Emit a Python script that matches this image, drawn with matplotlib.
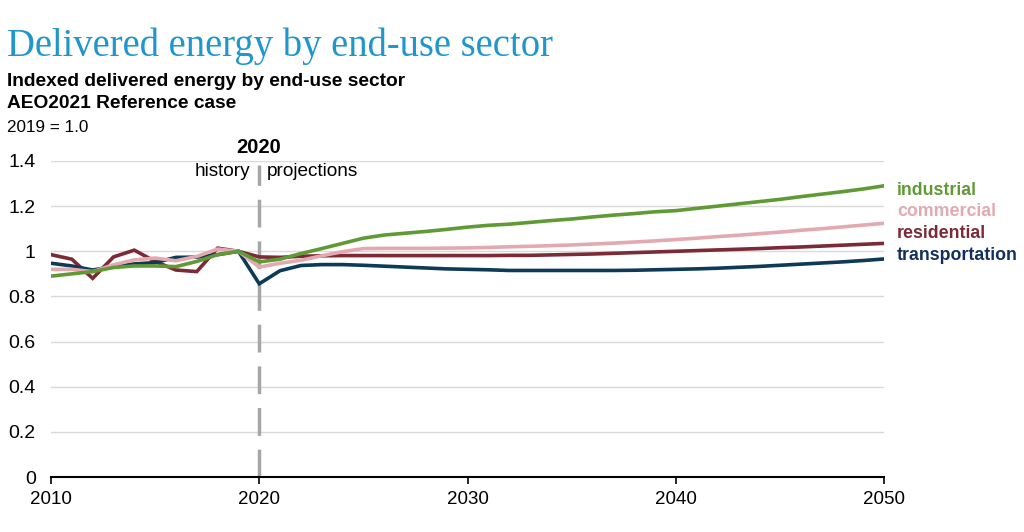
import numpy as np
import matplotlib.pyplot as plt

years = list(range(2010, 2051))

industrial = [0.89, 0.90, 0.91, 0.928, 0.935, 0.935, 0.932, 0.955, 0.985, 1.0,
              0.953, 0.965, 0.99, 1.012, 1.035, 1.058, 1.072, 1.08, 1.088, 1.097,
              1.107, 1.115, 1.12, 1.128, 1.136, 1.143, 1.152, 1.16, 1.167, 1.175,
              1.18, 1.19, 1.2, 1.21, 1.22, 1.23, 1.242, 1.253, 1.264, 1.276, 1.29]
commercial = [0.92, 0.92, 0.91, 0.94, 0.962, 0.97, 0.958, 0.977, 1.01, 1.0,
              0.93, 0.947, 0.96, 0.98, 0.998, 1.012, 1.013, 1.013, 1.013, 1.014,
              1.015, 1.017, 1.02, 1.022, 1.025, 1.028, 1.032, 1.036, 1.041, 1.046,
              1.052, 1.058, 1.065, 1.071, 1.078, 1.085, 1.093, 1.1, 1.108, 1.116, 1.124]
residential = [0.985, 0.965, 0.88, 0.975, 1.005, 0.955, 0.917, 0.91, 1.014, 1.0,
               0.975, 0.973, 0.978, 0.98, 0.981, 0.981, 0.981, 0.981, 0.981, 0.981,
               0.981, 0.981, 0.982, 0.982, 0.984, 0.986, 0.988, 0.991, 0.994, 0.997,
               1.0, 1.003, 1.006, 1.009, 1.012, 1.016, 1.019, 1.023, 1.027, 1.031, 1.035]
transportation = [0.947, 0.935, 0.917, 0.932, 0.944, 0.95, 0.973, 0.974, 0.985, 1.0,
                  0.856, 0.914, 0.937, 0.941, 0.941, 0.938, 0.934, 0.93, 0.926, 0.922,
                  0.92, 0.918, 0.915, 0.915, 0.915, 0.915, 0.915, 0.915, 0.916, 0.918,
                  0.92, 0.922, 0.925, 0.929, 0.933, 0.938, 0.943, 0.948, 0.953, 0.959, 0.966]

series = [
    ("residential", residential, "#7b2a36"),
    ("transportation", transportation, "#0d3a56"),
    ("commercial", commercial, "#e3a9b1"),
    ("industrial", industrial, "#5f9a35"),
]
label_colors = {"industrial": "#5f9a35", "commercial": "#e3a9b1",
                "residential": "#7b2a36", "transportation": "#12305e"}
label_y = [("industrial", 190), ("commercial", 212), ("residential", 233), ("transportation", 255)]

plt.rcParams['font.family'] = ['Liberation Sans', 'DejaVu Sans']

W, H = 1024, 532
fig = plt.figure(figsize=(W / 100, H / 100), dpi=100)
ax = fig.add_axes([51 / W, 1 - 477 / H, (884 - 51) / W, (477 - 161) / H])

for name, vals, col in series:
    ax.plot(years, vals, color=col, lw=2.6, solid_joinstyle='miter', zorder=3)

ax.set_xlim(2010, 2050)
ax.set_ylim(0, 1.4)
ax.set_yticks([0, 0.2, 0.4, 0.6, 0.8, 1.0, 1.2, 1.4])
ax.set_yticklabels(["0", "0.2", "0.4", "0.6", "0.8", "1", "1.2", "1.4"])
ax.set_xticks([2010, 2020, 2030, 2040, 2050])
ax.grid(axis='y', color='#d9d9d9', lw=1)
ax.set_axisbelow(True)
for s in ['top', 'right', 'left']:
    ax.spines[s].set_visible(False)
ax.spines['bottom'].set_color('black')
ax.spines['bottom'].set_linewidth(1.5)
ax.tick_params(axis='y', length=0, labelsize=14, pad=11)
ax.tick_params(axis='x', length=5, width=1.2, labelsize=13.5, pad=5, direction='out')

# history / projections divider
ax.axvline(2020, ymin=0, ymax=(477 - 165) / (477 - 161), color='#a6a6a6', lw=2.5,
           dashes=(8, 4), zorder=2)

def fy(py):
    return 1 - py / H

fig.text(259 / W, fy(147), "2020", ha='center', va='center', fontsize=14.5, fontweight='bold')
fig.text(250 / W, fy(171), "history", ha='right', va='center', fontsize=13.7)
fig.text(267 / W, fy(171), "projections", ha='left', va='center', fontsize=13.7)

for name, py in label_y:
    fig.text(897 / W, fy(py), name, ha='left', va='center', fontsize=12.8,
             fontweight='bold', color=label_colors[name])

fig.text(7 / W, fy(56), "Delivered energy by end-use sector", ha='left', va='baseline',
         fontsize=27.8, family='Liberation Serif', color='#1f96cc')
fig.text(7 / W, fy(86), "Indexed delivered energy by end-use sector", ha='left', va='baseline',
         fontsize=13.8, fontweight='bold')
fig.text(7 / W, fy(108.5), "AEO2021 Reference case", ha='left', va='baseline',
         fontsize=13.8, fontweight='bold')
fig.text(7 / W, fy(131.5), "2019 = 1.0", ha='left', va='baseline', fontsize=12.3)

fig.savefig("out.png", dpi=100)
